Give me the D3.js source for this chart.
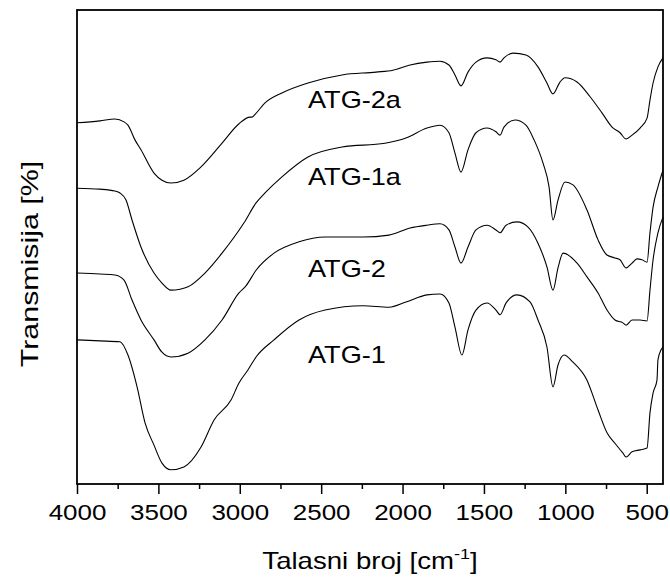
<!DOCTYPE html>
<html>
<head>
<meta charset="utf-8">
<script src="https://cdn.jsdelivr.net/npm/d3@7/dist/d3.min.js"></script>
<style>
  body { margin: 0; background: #fff; }
  text { font-family: Arial, "Liberation Sans", sans-serif; fill: #000; }
</style>
</head>
<body>
<div id="chart"></div>
<script>
// FTIR spectra, [wavenumber cm-1, transmission (arb. %)]
const atg2a = [
  [4000, 76.2], [3859, 76.6], [3767, 77.0], [3711, 76.4], [3687, 75.7], [3644, 72.6],
  [3607, 70.5], [3527, 65.6], [3478, 64.1], [3423, 63.5], [3343, 64.1], [3238, 66.9],
  [3109, 71.9], [3005, 76.0], [2937, 77.4], [2925, 77.4], [2906, 78.0], [2845, 80.4],
  [2741, 82.5], [2581, 84.6], [2372, 86.3], [2163, 86.9], [2059, 87.3], [1954, 88.4],
  [1850, 89.0], [1770, 89.2], [1715, 88.4], [1678, 86.3], [1641, 84.0], [1598, 86.9],
  [1549, 89.0], [1481, 89.9], [1426, 89.5], [1401, 89.0], [1377, 89.9], [1321, 90.9],
  [1242, 90.5], [1168, 88.0], [1113, 84.6], [1076, 82.3], [1033, 84.8], [1002, 85.7],
  [928, 84.8], [848, 81.7], [775, 78.3], [713, 75.3], [664, 74.1], [627, 72.8],
  [590, 73.6], [541, 75.1], [498, 77.2], [480, 81.0], [461, 84.6], [431, 88.0], [400, 89.9]
];

const atg1a = [
  [4000, 62.4], [3859, 62.2], [3767, 61.8], [3736, 61.4], [3699, 59.9], [3662, 55.7],
  [3607, 50.0], [3527, 44.5], [3478, 42.4], [3423, 40.9], [3367, 41.1], [3318, 41.6],
  [3214, 44.5], [3109, 48.7], [2974, 55.1], [2900, 59.3], [2845, 61.4], [2741, 64.8],
  [2581, 69.0], [2372, 71.1], [2108, 71.9], [1979, 73.0], [1850, 75.1], [1770, 75.7],
  [1715, 74.1], [1678, 69.8], [1641, 65.8], [1598, 70.5], [1549, 74.1], [1481, 75.1],
  [1426, 74.3], [1401, 73.6], [1377, 75.3], [1309, 76.8], [1242, 75.7], [1192, 72.6],
  [1137, 67.7], [1100, 62.7], [1076, 55.7], [1045, 59.9], [1002, 63.7], [953, 63.1],
  [867, 57.8], [799, 51.5], [744, 48.3], [695, 47.7], [664, 47.3], [627, 45.6],
  [590, 46.6], [560, 47.5], [529, 47.3], [498, 46.8], [480, 53.0], [461, 58.4],
  [431, 62.7], [400, 66.2]
];

const atg2 = [
  [4000, 44.5], [3859, 44.3], [3767, 44.1], [3711, 43.0], [3662, 38.8], [3607, 34.6],
  [3527, 30.4], [3478, 27.8], [3423, 26.8], [3318, 27.6], [3214, 30.4], [3109, 34.6],
  [3005, 40.3], [2962, 41.8], [2900, 45.1], [2790, 48.7], [2636, 51.1], [2476, 52.1],
  [2243, 52.1], [2083, 52.5], [1954, 54.0], [1850, 54.6], [1770, 54.9], [1715, 53.6],
  [1678, 50.0], [1641, 46.6], [1598, 50.0], [1549, 53.6], [1481, 54.6], [1426, 53.6],
  [1401, 53.0], [1364, 54.6], [1297, 55.3], [1229, 54.2], [1168, 50.8], [1113, 45.8],
  [1076, 40.9], [1045, 45.6], [1014, 48.7], [928, 46.6], [867, 43.7], [799, 40.3],
  [744, 36.7], [695, 34.6], [646, 34.0], [627, 33.5], [590, 34.6], [541, 34.6],
  [498, 34.4], [480, 40.9], [461, 47.3], [431, 53.0], [400, 56.3]
];

const atg1 = [
  [4000, 30.4], [3859, 30.2], [3736, 30.0], [3687, 27.2], [3631, 20.5], [3582, 12.9],
  [3527, 8.2], [3478, 4.4], [3423, 3.0], [3343, 3.6], [3238, 7.8], [3158, 13.5],
  [3054, 17.7], [3005, 21.3], [2949, 24.1], [2900, 26.8], [2790, 30.4], [2636, 34.6],
  [2476, 36.7], [2243, 37.6], [2083, 37.3], [1979, 38.4], [1850, 39.9], [1770, 40.1],
  [1715, 38.2], [1678, 33.1], [1635, 27.2], [1598, 32.5], [1549, 36.7], [1481, 38.2],
  [1426, 36.7], [1401, 35.7], [1364, 38.2], [1297, 39.9], [1217, 38.4], [1168, 34.6],
  [1113, 28.9], [1076, 20.5], [1045, 25.1], [1008, 27.2], [953, 25.7], [867, 21.9],
  [799, 15.6], [744, 10.8], [695, 8.6], [646, 6.5], [627, 5.7], [590, 6.8],
  [541, 7.2], [498, 7.6], [480, 15.0], [461, 19.2], [437, 21.9], [431, 26.2],
  [412, 28.3], [400, 28.9]
];

const seriesNames = ['ATG-2a', 'ATG-1a', 'ATG-2', 'ATG-1'];
// label anchor (left end of text baseline) in data coordinates [wavenumber, transmission]
const labelAt = [[2581, 79.3], [2581, 63.1], [2581, 43.7], [2581, 25.5]];

const xMajor = [4000, 3500, 3000, 2500, 2000, 1500, 1000, 500];
const xMinor = [3750, 3250, 2750, 2250, 1750, 1250, 750];

const width = 670, height = 578;
const margin = { top: 10, right: 7, bottom: 94, left: 77 };

const svg = d3.select('#chart').append('svg')
  .attr('width', width)
  .attr('height', height);

const x = d3.scaleLinear().domain([4000, 400]).range([margin.left, width - margin.right]);
const y = d3.scaleLinear().domain([0, 100]).range([height - margin.bottom, margin.top]);

const stretch = 1.18;

// bottom axis, major + minor ticks
const xAxis = svg.append('g')
  .attr('transform', `translate(0,${height - margin.bottom})`)
  .call(d3.axisBottom(x).tickValues(xMajor).tickSize(10).tickSizeOuter(0).tickFormat(d3.format('d')));
xAxis.select('.domain').remove();
xAxis.selectAll('line').attr('stroke', '#000').attr('stroke-width', 1.5);
xAxis.selectAll('.tick text')
  .attr('font-size', 22)
  .attr('font-family', 'Arial, "Liberation Sans", sans-serif')
  .attr('y', 0).attr('dy', 0)
  .attr('transform', `translate(0,36) scale(${stretch},1)`);

const xMinorAxis = svg.append('g')
  .attr('transform', `translate(0,${height - margin.bottom})`)
  .call(d3.axisBottom(x).tickValues(xMinor).tickSize(5).tickSizeOuter(0).tickFormat(''));
xMinorAxis.select('.domain').remove();
xMinorAxis.selectAll('line').attr('stroke', '#000').attr('stroke-width', 1.5);

// spectra
const line = d3.line()
  .x(d => x(d[0]))
  .y(d => y(d[1]))
  .curve(d3.curveMonotoneX);

[atg2a, atg1a, atg2, atg1].forEach(s => {
  svg.append('path')
    .datum(s)
    .attr('fill', 'none')
    .attr('stroke', '#000')
    .attr('stroke-width', 1.1)
    .attr('d', line);
});

// frame
svg.append('rect')
  .attr('x', margin.left)
  .attr('y', margin.top)
  .attr('width', width - margin.left - margin.right)
  .attr('height', height - margin.top - margin.bottom)
  .attr('fill', 'none')
  .attr('stroke', '#000')
  .attr('stroke-width', 1.8);

// series labels
svg.append('g')
  .selectAll('text')
  .data(seriesNames)
  .join('text')
  .attr('transform', (d, i) => `translate(${x(labelAt[i][0])},${y(labelAt[i][1])}) scale(${stretch},1)`)
  .attr('font-size', 23)
  .text(d => d);

// axis titles
const xTitle = svg.append('text')
  .attr('transform', `translate(${(margin.left + width - margin.right) / 2},569) scale(1.2,1)`)
  .attr('text-anchor', 'middle')
  .attr('font-size', 23);
xTitle.append('tspan').text('Talasni broj [cm');
xTitle.append('tspan').attr('font-size', 15).attr('dy', -10).text('-1');
xTitle.append('tspan').attr('dy', 10).text(']');

svg.append('text')
  .attr('transform', `translate(38,264) rotate(-90) scale(1.32,1)`)
  .attr('text-anchor', 'middle')
  .attr('font-size', 23)
  .text('Transmisija [%]');
</script>
</body>
</html>
